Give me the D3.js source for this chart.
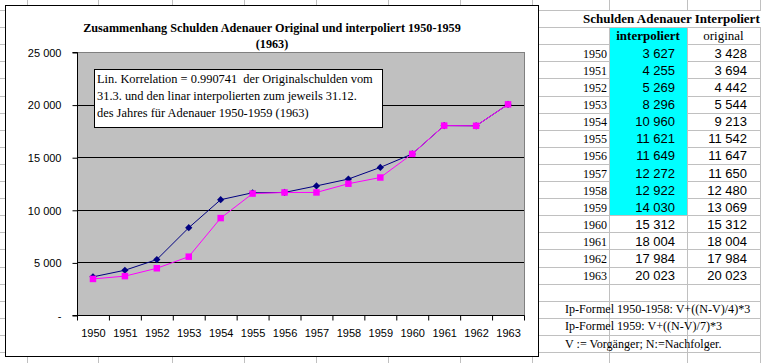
<!DOCTYPE html>
<html>
<head>
<meta charset="utf-8">
<script src="https://cdn.jsdelivr.net/npm/d3@7"></script>
<style>
  body { margin: 0; background: #fff; }
  svg { display: block; }
</style>
</head>
<body>
<div id="chart"></div>
<script>
// data read from the sheet
const years = ["1950", "1951", "1952", "1953", "1954", "1955", "1956", "1957", "1958", "1959", "1960", "1961", "1962", "1963"];
const interpoliert = [3627, 4255, 5269, 8296, 10960, 11621, 11649, 12272, 12922, 14030, 15312, 18004, 17984, 20023];
const original = [3428, 3694, 4442, 5544, 9213, 11542, 11647, 11650, 12480, 13069, 15312, 18004, 17984, 20023];
const yTicks = [0, 5000, 10000, 15000, 20000, 25000];
const yTickLabels = ["-", "5 000", "10 000", "15 000", "20 000", "25 000"];
const titleLines = ["Zusammenhang Schulden Adenauer Original und interpoliert 1950-1959", "(1963)"];
const noteLines = [
    "Lin. Korrelation = 0.990741  der Originalschulden vom",
    "31.3. und den linar interpolierten zum jeweils 31.12.",
    "des Jahres für Adenauer 1950-1959 (1963)"
];
const tableTitle = "Schulden Adenauer Interpoliert";
const colHeads = ["interpoliert", "original"];
const formulas = [
    "Ip-Formel 1950-1958: V+((N-V)/4)*3",
    "Ip-Formel 1959: V+((N-V)/7)*3",
    "V := Vorgänger; N:=Nachfolger."
];

const W = 761, H = 363;
const serif = "'Liberation Serif', 'Times New Roman', serif";
const sans = "'Liberation Sans', Arial, sans-serif";
const fmt = d3.formatLocale({ decimal: ",", thousands: " ", grouping: [3], currency: ["", ""] }).format(",d");

const svg = d3.select("#chart").append("svg")
    .attr("width", W).attr("height", H);

// spreadsheet grid behind everything
const rowH = 17.1;
const rowY = k => 10 + k * rowH;
const colX = [27, 98, 172, 244, 316, 388, 460, 532, 609, 687, 760];
const grid = svg.append("g").attr("stroke", "#c0c0c0").attr("shape-rendering", "crispEdges");
grid.selectAll("line.h").data(d3.range(0, 21)).join("line")
    .attr("x1", 0).attr("x2", W)
    .attr("y1", k => Math.round(rowY(k)) + 0.5).attr("y2", k => Math.round(rowY(k)) + 0.5);
grid.selectAll("line.v").data(colX).join("line")
    .attr("x1", d => d + 0.5).attr("x2", d => d + 0.5)
    .attr("y1", 0).attr("y2", H);

// table header row has overflowing text, no inner borders
svg.append("rect").attr("x", 540).attr("y", Math.round(rowY(0)) + 1)
    .attr("width", W - 540).attr("height", Math.round(rowY(1)) - Math.round(rowY(0)) - 1).attr("fill", "#fff");

// cyan cells
svg.append("rect")
    .attr("x", colX[8] + 1).attr("y", Math.round(rowY(1)) + 1)
    .attr("width", colX[9] - colX[8] - 1)
    .attr("height", Math.round(rowY(12)) - Math.round(rowY(1)) - 1)
    .attr("fill", "#00ffff");

svg.append("text").attr("x", 583).attr("y", rowY(1) - 4)
    .attr("font-family", serif).attr("font-weight", "bold").attr("font-size", 13)
    .text(tableTitle);
svg.append("text").attr("x", (colX[8] + colX[9]) / 2).attr("y", rowY(2) - 4)
    .attr("text-anchor", "middle").attr("font-family", serif).attr("font-weight", "bold").attr("font-size", 13)
    .text(colHeads[0]);
svg.append("text").attr("x", (colX[9] + colX[10]) / 2).attr("y", rowY(2) - 4)
    .attr("text-anchor", "middle").attr("font-family", serif).attr("font-size", 13)
    .text(colHeads[1]);

const rows = svg.append("g").selectAll("g").data(years).join("g")
    .attr("transform", (d, i) => `translate(0,${rowY(i + 3) - 3.5})`);
rows.append("text").attr("x", 607).attr("text-anchor", "end")
    .attr("font-family", serif).attr("font-size", 12).text(d => d);
rows.append("text").attr("x", 675).attr("text-anchor", "end")
    .attr("font-family", sans).attr("font-size", 13).text((d, i) => fmt(interpoliert[i]));
rows.append("text").attr("x", 747).attr("text-anchor", "end")
    .attr("font-family", sans).attr("font-size", 13).text((d, i) => fmt(original[i]));

svg.append("g").selectAll("text").data(formulas).join("text")
    .attr("x", 565).attr("y", (d, i) => rowY(18 + i) - 4.5)
    .attr("font-family", serif).attr("font-size", 12.1)
    .text(d => d);

// chart object
svg.append("rect").attr("x", 5.5).attr("y", 5.5).attr("width", 533).attr("height", 351)
    .attr("fill", "#fff").attr("stroke", "#000");

const plot = { left: 77, right: 524, top: 52, bottom: 315 };
const x = d3.scaleBand().domain(years).range([plot.left, plot.right]);
const y = d3.scaleLinear().domain([0, 25000]).range([plot.bottom, plot.top]);

svg.append("rect")
    .attr("x", plot.left + 0.5).attr("y", plot.top + 0.5)
    .attr("width", plot.right - plot.left).attr("height", plot.bottom - plot.top)
    .attr("fill", "#c0c0c0").attr("stroke", "#808080");

svg.append("g").selectAll("line").data(yTicks.filter(v => v > 0 && v < 25000)).join("line")
    .attr("x1", plot.left).attr("x2", plot.right)
    .attr("y1", d => Math.round(y(d)) + 0.5).attr("y2", d => Math.round(y(d)) + 0.5)
    .attr("stroke", "#000");

// axes
const yAxis = svg.append("g").attr("transform", `translate(${plot.left + 0.5},0.5)`)
    .call(d3.axisLeft(y).tickValues(yTicks).tickSize(5).tickPadding(11)
        .tickFormat((d, i) => yTickLabels[i]));
yAxis.select(".domain").attr("d", `M-5,${plot.bottom}H0V${plot.top}H-5`).attr("stroke", "#000");
yAxis.selectAll("text").attr("font-family", sans).attr("font-size", 11).attr("fill", "#000").attr("dy", "0.35em");
yAxis.selectAll("line").attr("stroke", "#000");

const xAxis = svg.append("g").attr("transform", `translate(0.5,${plot.bottom + 0.5})`);
xAxis.append("line").attr("x1", plot.left).attr("x2", plot.right).attr("stroke", "#000");
xAxis.selectAll("line.tk").data(years.concat([null])).join("line")
    .attr("x1", (d, i) => plot.left + i * x.bandwidth())
    .attr("x2", (d, i) => plot.left + i * x.bandwidth())
    .attr("y1", 0).attr("y2", 5).attr("stroke", "#000");
xAxis.selectAll("text").data(years).join("text")
    .attr("x", d => x(d) + x.bandwidth() / 2).attr("y", 21)
    .attr("text-anchor", "middle").attr("font-family", sans).attr("font-size", 11)
    .text(d => d);

// series
const cx = d => x(d) + x.bandwidth() / 2;
const line = d3.line().x(d => cx(d[0])).y(d => y(d[1]));
const s1 = years.map((d, i) => [d, interpoliert[i]]);
const s2 = years.map((d, i) => [d, original[i]]);

svg.append("path").datum(s1).attr("d", line).attr("fill", "none").attr("stroke", "#000080").attr("stroke-width", 1);
svg.append("g").selectAll("path").data(s1).join("path")
    .attr("d", d3.symbol(d3.symbolSquare, 26))
    .attr("transform", d => `translate(${cx(d[0])},${y(d[1])}) rotate(45)`)
    .attr("fill", "#000080");

svg.append("path").datum(s2).attr("d", line).attr("fill", "none").attr("stroke", "#ff00ff").attr("stroke-width", 1);
svg.append("g").selectAll("path").data(s2).join("path")
    .attr("d", d3.symbol(d3.symbolSquare, 42))
    .attr("transform", d => `translate(${cx(d[0])},${y(d[1])})`)
    .attr("fill", "#ff00ff");

// title
svg.append("g").selectAll("text").data(titleLines).join("text")
    .attr("x", 272).attr("y", (d, i) => 32 + i * 16)
    .attr("text-anchor", "middle").attr("font-family", serif).attr("font-weight", "bold").attr("font-size", 12.2)
    .text(d => d);

// note box
svg.append("rect").attr("x", 94.5).attr("y", 69.5).attr("width", 288).attr("height", 58)
    .attr("fill", "#fff").attr("stroke", "#000");
svg.append("g").selectAll("text").data(noteLines).join("text")
    .attr("x", 97).attr("y", (d, i) => 83 + i * 17)
    .attr("font-family", serif).attr("font-size", 12.4)
    .style("white-space", "pre")
    .text(d => d);
</script>
</body>
</html>
